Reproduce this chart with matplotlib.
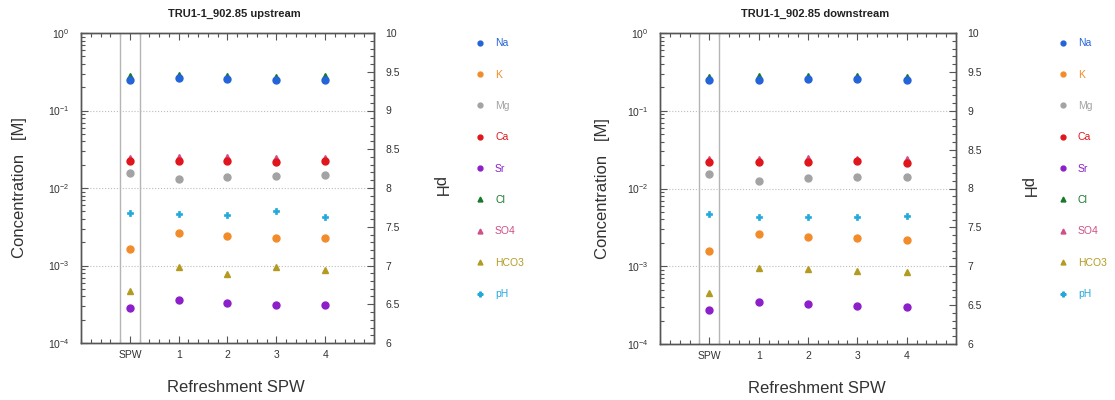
import matplotlib
matplotlib.use("Agg")
import matplotlib.pyplot as plt
import numpy as np
from matplotlib.ticker import FixedLocator, MultipleLocator, LogLocator, NullFormatter
from matplotlib.lines import Line2D

plt.rcParams['font.family'] = ['Liberation Sans', 'DejaVu Sans']

x_labels = ["SPW", "1", "2", "3", "4"]
x_pos = [0, 1, 2, 3, 4]

titles = ["TRU1-1_902.85 upstream", "TRU1-1_902.85 downstream"]

# upstream
up_Na = [0.251, 0.259, 0.253, 0.246, 0.249]
up_K = [1.62e-3, 2.65e-3, 2.40e-3, 2.24e-3, 2.24e-3]
up_Mg = [0.0156, 0.0131, 0.0140, 0.0142, 0.0147]
up_Ca = [0.0220, 0.0225, 0.0225, 0.0218, 0.0222]
up_Sr = [2.84e-4, 3.63e-4, 3.30e-4, 3.13e-4, 3.13e-4]
up_Cl = [0.276, 0.284, 0.279, 0.274, 0.278]
up_SO4 = [0.0243, 0.0248, 0.0248, 0.0241, 0.0243]
up_HCO3 = [4.75e-4, 9.6e-4, 7.8e-4, 9.6e-4, 8.8e-4]
up_pH = [7.68, 7.66, 7.65, 7.70, 7.63]

# downstream
dn_Na = [0.245, 0.250, 0.255, 0.255, 0.245]
dn_K = [1.57e-3, 2.58e-3, 2.38e-3, 2.29e-3, 2.15e-3]
dn_Mg = [0.0153, 0.0125, 0.0136, 0.0141, 0.0139]
dn_Ca = [0.0216, 0.0220, 0.0222, 0.0227, 0.0214]
dn_Sr = [2.73e-4, 3.43e-4, 3.27e-4, 3.07e-4, 2.95e-4]
dn_Cl = [0.272, 0.279, 0.282, 0.279, 0.272]
dn_SO4 = [0.0239, 0.0243, 0.0248, 0.0243, 0.0238]
dn_HCO3 = [4.57e-4, 9.4e-4, 9.2e-4, 8.8e-4, 8.4e-4]
dn_pH = [7.67, 7.635, 7.635, 7.635, 7.64]

species = ["Na", "K", "Mg", "Ca", "Sr", "Cl", "SO4", "HCO3"]
colors = {"Na": "#2464d8", "K": "#f28c2a", "Mg": "#a3a3a3", "Ca": "#e0161c",
          "Sr": "#8c1fc9", "Cl": "#17782a", "SO4": "#cf4f86", "HCO3": "#b39b22",
          "pH": "#22a9dc"}
markers = {"Na": "o", "K": "o", "Mg": "o", "Ca": "o", "Sr": "o",
           "Cl": "^", "SO4": "^", "HCO3": "^", "pH": "P"}

datasets = [
    {"Na": up_Na, "K": up_K, "Mg": up_Mg, "Ca": up_Ca, "Sr": up_Sr,
     "Cl": up_Cl, "SO4": up_SO4, "HCO3": up_HCO3, "pH": up_pH},
    {"Na": dn_Na, "K": dn_K, "Mg": dn_Mg, "Ca": dn_Ca, "Sr": dn_Sr,
     "Cl": dn_Cl, "SO4": dn_SO4, "HCO3": dn_HCO3, "pH": dn_pH},
]

W, H = 1115, 400
fig = plt.figure(figsize=(W / 100, H / 100), dpi=100)

axes_px = [(81, 33, 293, 310), (660, 33, 296, 311)]
ylabel_x = [-0.185, -0.170]
ph_label_x = [1.222, 1.24]
legend_px = [(470, 33), (1053, 33)]

spine_col = "#555555"
tick_col = "#333333"

for i, (l, t, w, h) in enumerate(axes_px):
    ax = fig.add_axes([l / W, 1 - (t + h) / H, w / W, h / H])
    ax2 = ax.twinx()
    d = datasets[i]

    ax.set_yscale("log")
    ax.set_ylim(1e-4, 1)
    ax.set_xlim(-1, 5)
    ax2.set_ylim(6, 10)

    ax.axvline(-0.2, color="#b5b5b5", lw=1, zorder=1)
    ax.axvline(0.2, color="#b5b5b5", lw=1, zorder=1)
    ax.grid(axis="y", which="major", ls=":", color="#bdbdbd", lw=0.8)
    ax.set_axisbelow(True)

    for s in species:
        z = 4 if markers[s] == "o" else 3
        ax.plot(x_pos, d[s], ls="none", marker=markers[s], color=colors[s],
                ms=5.0, mec=colors[s], zorder=z, clip_on=False)
    ax2.plot(x_pos, d["pH"], ls="none", marker="P", color=colors["pH"],
             ms=4.0, mec=colors["pH"], mew=0.5, zorder=5)

    ax.xaxis.set_major_locator(FixedLocator(x_pos))
    ax.set_xticklabels(x_labels)
    ax.xaxis.set_minor_locator(MultipleLocator(0.2))
    ax.yaxis.set_major_locator(LogLocator(base=10, numticks=10))
    ax.yaxis.set_minor_locator(LogLocator(base=10, subs=np.arange(2, 10), numticks=10))
    ax.yaxis.set_minor_formatter(NullFormatter())
    ax2.yaxis.set_major_locator(MultipleLocator(0.5))
    ax2.yaxis.set_minor_locator(MultipleLocator(0.1))
    ax2.set_yticklabels([("%g" % v) for v in ax2.get_yticks()])

    ax.tick_params(axis="x", which="both", direction="in", top=True, bottom=True,
                   colors=spine_col, labelcolor=tick_col, labelsize=7.5, pad=5)
    ax.tick_params(axis="x", which="major", length=5, width=0.8)
    ax.tick_params(axis="x", which="minor", length=3, width=0.8)
    ax.tick_params(axis="y", which="both", direction="in", left=True, right=False,
                   colors=spine_col, labelcolor=tick_col, labelsize=7.5, pad=8)
    ax.tick_params(axis="y", which="major", length=5, width=0.8)
    ax.tick_params(axis="y", which="minor", length=3, width=0.8)
    ax2.tick_params(axis="y", which="both", direction="in", colors=spine_col,
                    labelcolor=tick_col, labelsize=7.5, pad=8)
    ax2.tick_params(axis="y", which="major", length=5, width=0.8)
    ax2.tick_params(axis="y", which="minor", length=3, width=0.8)

    for a in (ax, ax2):
        for sp in a.spines.values():
            sp.set_color(spine_col)
            sp.set_linewidth(1.0)

    ax.set_ylabel("Concentration   [M]", fontsize=12, color="#333333")
    ax.yaxis.set_label_coords(ylabel_x[i], 0.5)
    ax2.set_ylabel("pH", fontsize=12, color="#333333", rotation=270, va="center")
    ax2.yaxis.set_label_coords(ph_label_x[i], 0.5)
    ax.set_xlabel("Refreshment SPW", fontsize=12, color="#333333")
    ax.xaxis.set_label_coords(0.529, -0.118)
    ax.text(0.525, 1.06, titles[i], transform=ax.transAxes, ha="center", va="center",
            fontsize=8, fontweight="bold", color="#222222")

    # legend
    handles = [Line2D([], [], ls="none", marker=markers[s], color=colors[s],
                      ms=3.5, label=s) for s in species]
    lx, ly = legend_px[i]
    leg = fig.legend(handles=handles, loc="upper left",
                     bbox_to_anchor=(lx / W, 1 - ly / H), frameon=False,
                     fontsize=7.5, labelspacing=2.05, handlelength=1.0,
                     handletextpad=0.9, borderpad=0.0)
    for txt, s in zip(leg.get_texts(), species):
        txt.set_color(colors[s])
    hp = [Line2D([], [], ls="none", marker="P", color=colors["pH"], ms=3.5, label="pH")]
    leg2 = fig.legend(handles=hp, loc="upper left",
                      bbox_to_anchor=(lx / W, 1 - 284 / H), frameon=False,
                      fontsize=7.5, handlelength=1.0, handletextpad=0.9, borderpad=0.0)
    leg2.get_texts()[0].set_color(colors["pH"])

fig.savefig("out.png", dpi=100)
